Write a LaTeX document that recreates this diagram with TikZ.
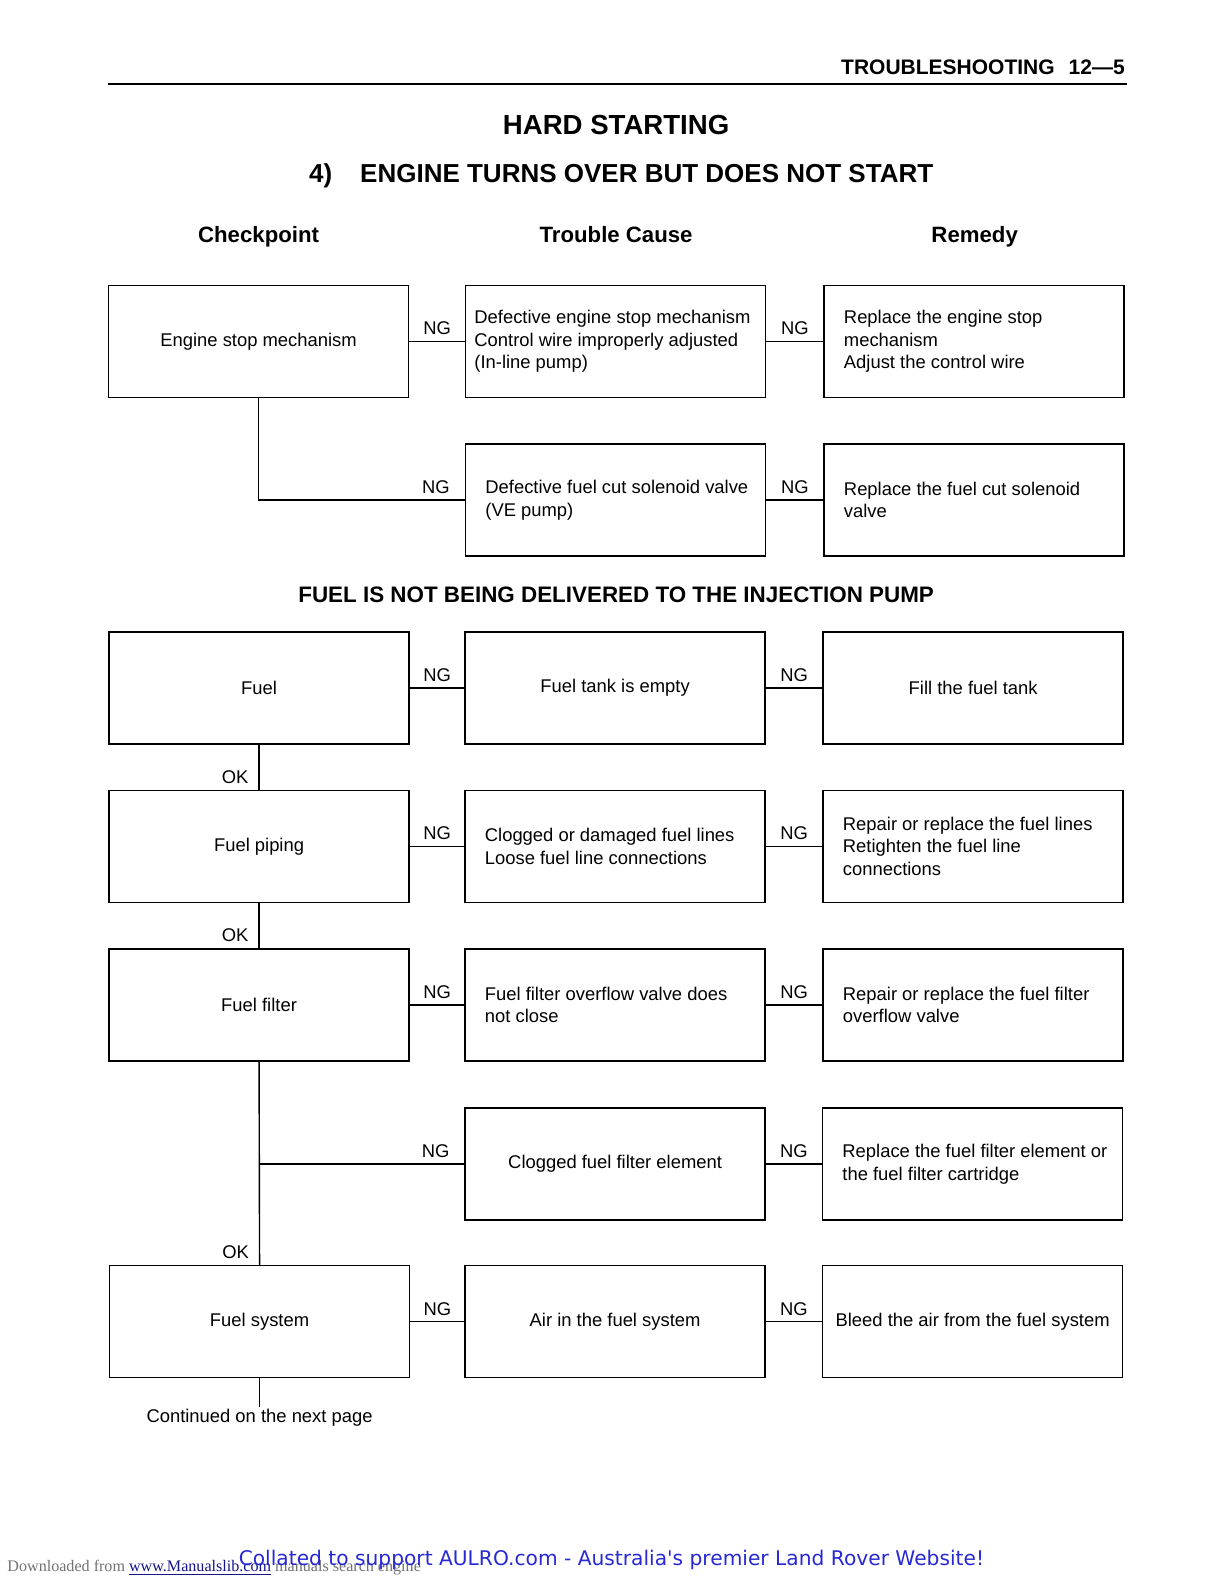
\documentclass[tikz,border=0pt]{standalone}
\usepackage{fontspec}
\setmainfont{Liberation Sans}
\newfontfamily\timesf{Liberation Serif}
\newfontfamily\dejavuf{DejaVu Sans}
\usetikzlibrary{calc}
\definecolor{linkblue}{RGB}{20,20,140}
\definecolor{aulro}{RGB}{40,40,215}
\newcommand\boxfont{\fontsize{9.2}{11.35}\selectfont}
\begin{document}
\begin{tikzpicture}[x=0.505pt,y=-0.505pt,
  box/.style={draw, line width=0.8pt, minimum width=150pt, minimum height=56pt, inner sep=0pt, font=\boxfont, align=center},
  txt/.style={anchor=west, align=left, font=\boxfont, inner sep=0pt},
  conn/.style={line width=0.7pt},
  ng/.style={font=\boxfont, anchor=south, inner sep=0pt, yshift=2.85pt},
  ok/.style={font=\boxfont, anchor=south east, inner sep=0pt, xshift=-5pt, yshift=2.85pt},
  colhead/.style={font=\bfseries\fontsize{11.1}{13}\selectfont, inner sep=0pt, anchor=base}]
\useasboundingbox[fill=white] (0,0) rectangle (1211.9,1568.3);

% header
\node[anchor=base east, inner sep=0pt, font=\bfseries\fontsize{10.5}{12}\selectfont] (pagehead) at (1114,74) {TROUBLESHOOTING\hspace{7pt}12—5};
\draw[line width=1pt] (107,83) -- (1116,83);
\node[anchor=base, inner sep=0pt, font=\bfseries\fontsize{13.8}{16}\selectfont] (title) at (610,133) {HARD STARTING};
\node[anchor=base, inner sep=0pt, font=\bfseries\fontsize{13}{16}\selectfont] (subtitle) at (615,180.5) {4)\hspace{14pt}ENGINE TURNS OVER BUT DOES NOT START};
\node[colhead] (h1) at (256,240) {Checkpoint};
\node[colhead] (h2) at (610,240) {Trouble Cause};
\node[colhead] (h3) at (965,240) {Remedy};

% row 1
\node[box] (c1) at (256,338) {Engine stop mechanism};
\node[box] (m1) at (609.5,338) {};
\node[txt] (m1t) at ([xshift=4.6pt]m1.west) {Defective engine stop mechanism\\Control wire improperly adjusted\\(In-line pump)};
\node[box] (r1) at (964.5,338) {};
\node[txt] (r1t) at ([xshift=10.1pt]r1.west) {Replace the engine stop\\mechanism\\Adjust the control wire};
\draw[conn] (c1.east) -- node[ng]{NG} (m1.west);
\draw[conn] (m1.east) -- node[ng]{NG} (r1.west);

% row 2
\node[box] (m2) at (609.5,495) {};
\node[txt] (m2t) at ([xshift=10.1pt]m2.west) {Defective fuel cut solenoid valve\\(VE pump)};
\node[box] (r2) at (964.5,495) {};
\node[txt] (r2t) at ([xshift=10.1pt]r2.west) {Replace the fuel cut solenoid\\valve};
\draw[conn] (c1.south) |- node[ng,pos=0.93]{NG} (m2.west);
\draw[conn] (m2.east) -- node[ng]{NG} (r2.west);

% section heading
\node[colhead, font=\bfseries\fontsize{11.2}{13}\selectfont] (sect) at (610,597) {FUEL IS NOT BEING DELIVERED TO THE INJECTION PUMP};

% row 3
\node[box] (c3) at (256.5,681) {Fuel};
\node[box] (m3) at (609,681) {Fuel tank is empty};
\node[box] (r3) at (963.5,681) {Fill the fuel tank};
\draw[conn] (c3.east) -- node[ng]{NG} (m3.west);
\draw[conn] (m3.east) -- node[ng]{NG} (r3.west);

% row 4
\node[box] (c4) at (256.5,838) {Fuel piping};
\node[box] (m4) at (609,838) {};
\node[txt] (m4t) at ([xshift=10.1pt]m4.west) {Clogged or damaged fuel lines\\Loose fuel line connections};
\node[box] (r4) at (963.5,838) {};
\node[txt] (r4t) at ([xshift=10.1pt]r4.west) {Repair or replace the fuel lines\\Retighten the fuel line\\connections};
\draw[conn] (c4.east) -- node[ng]{NG} (m4.west);
\draw[conn] (m4.east) -- node[ng]{NG} (r4.west);
\draw[conn] (c3.south) -- (c4.north) node[ok,pos=1]{OK};

% row 5
\node[box] (c5) at (256.5,995) {Fuel filter};
\node[box] (m5) at (609,995) {};
\node[txt] (m5t) at ([xshift=10.1pt]m5.west) {Fuel filter overflow valve does\\not close};
\node[box] (r5) at (963.5,995) {};
\node[txt] (r5t) at ([xshift=10.1pt]r5.west) {Repair or replace the fuel filter\\overflow valve};
\draw[conn] (c5.east) -- node[ng]{NG} (m5.west);
\draw[conn] (m5.east) -- node[ng]{NG} (r5.west);
\draw[conn] (c4.south) -- (c5.north) node[ok,pos=1]{OK};

% row 6
\node[box] (m6) at (609,1152.5) {Clogged fuel filter element};
\node[box] (r6) at (963,1152.5) {};
\node[txt] (r6t) at ([xshift=10.1pt]r6.west) {Replace the fuel filter element or\\the fuel filter cartridge};
\draw[conn] (c5.south |- m6.west) -- node[ng,pos=0.86]{NG} (m6.west);
\draw[conn] (m6.east) -- node[ng]{NG} (r6.west);

% row 7
\node[box] (c7) at (257,1308.5) {Fuel system};
\node[box] (m7) at (609,1308.5) {Air in the fuel system};
\node[box] (r7) at (963,1308.5) {Bleed the air from the fuel system};
\draw[conn] (c7.east) -- node[ng]{NG} (m7.west);
\draw[conn] (m7.east) -- node[ng]{NG} (r7.west);
\draw[conn] (c5.south) -- (c7.north) node[ok,pos=1]{OK};

% continuation
\node[font=\boxfont, inner sep=1pt] (cont) at (257,1404) {Continued on the next page};
\draw[conn] (c7.south) -- (cont.north);

% footer
\node[anchor=base west, inner sep=0pt, font=\timesf\fontsize{8.05}{10}\selectfont, text=black!55] (dl) at (7,1556) {Downloaded from \textcolor{linkblue}{\underline{www.Manualslib.com}} manuals search engine};
\node[anchor=base west, inner sep=0pt, font=\dejavuf\fontsize{10.1}{12}\selectfont, text=aulro] (aulro) at (236,1550) {Collated to support AULRO.com - Australia's premier Land Rover Website!};
\end{tikzpicture}
\end{document}
